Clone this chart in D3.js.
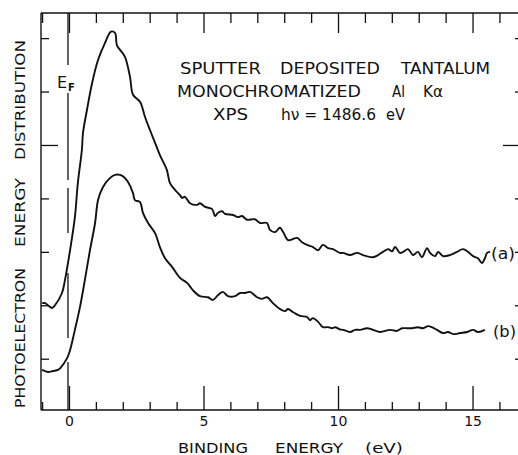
<!DOCTYPE html>
<html>
<head>
<meta charset="utf-8">
<script src="https://cdn.jsdelivr.net/npm/d3@7"></script>
<style>
  html, body { margin: 0; padding: 0; background: #fff; }
  svg { display: block; }
  text { font-family: "DejaVu Sans", sans-serif; fill: #111; }
</style>
</head>
<body>
<svg id="chart" width="518" height="455"></svg>
<script>
// ---------- DATA ----------
const energyA = [-1.00,-0.89,-0.78,-0.63,-0.52,-0.26,-0.15,0.04,0.22,0.33,0.48,0.52,0.67,0.86,1.08,1.34,1.56,1.71,1.78,1.90,2.08,2.27,2.38,2.64,2.83,3.01,3.20,3.38,3.64,3.75,3.94,4.13,4.20,4.31,4.50,4.76,4.87,5.06,5.32,5.43,5.54,5.69,5.80,6.10,6.28,6.43,6.62,6.91,7.10,7.36,7.47,7.66,7.84,7.96,8.14,8.33,8.48,8.66,8.85,9.07,9.26,9.44,9.63,9.81,10.07,10.19,10.45,10.71,10.93,11.30,11.49,11.67,11.86,12.01,12.12,12.30,12.42,12.60,12.79,12.97,13.12,13.31,13.42,13.61,13.72,13.90,14.16,14.42,14.65,14.83,15.02,15.20,15.35,15.46,15.54,15.65];
const intensityA = [2.04,2.04,2.00,1.95,2.00,2.23,2.47,3.03,3.65,4.29,4.91,5.22,5.66,6.16,6.59,6.91,7.12,7.10,6.87,6.78,6.65,6.27,5.94,5.81,5.52,5.28,5.04,4.81,4.53,4.29,4.16,4.06,4.01,4.03,3.91,3.88,3.91,3.84,3.80,3.67,3.73,3.76,3.71,3.69,3.65,3.67,3.60,3.61,3.54,3.54,3.41,3.37,3.45,3.37,3.22,3.24,3.26,3.18,3.13,3.09,3.03,3.13,3.07,3.05,2.98,2.98,2.94,2.98,2.94,2.90,2.94,3.00,3.05,3.01,3.09,2.98,3.00,3.05,2.94,3.00,2.90,3.07,2.98,2.92,3.00,2.92,2.94,3.00,3.05,3.00,2.92,2.88,2.79,2.88,2.98,3.00];

const energyB = [-1.00,-0.78,-0.59,-0.41,-0.33,-0.07,0.04,0.22,0.41,0.59,0.78,0.97,1.08,1.26,1.52,1.71,1.90,2.04,2.19,2.38,2.45,2.64,2.75,2.94,3.20,3.38,3.57,3.83,4.13,4.39,4.61,4.87,5.17,5.35,5.54,5.72,5.91,6.17,6.36,6.54,6.73,6.99,7.17,7.36,7.58,7.84,8.03,8.14,8.33,8.59,8.85,8.96,9.07,9.26,9.44,9.63,9.78,9.89,10.07,10.19,10.45,10.63,10.82,11.08,11.30,11.56,11.93,12.19,12.38,12.57,12.75,12.97,13.16,13.35,13.49,13.68,13.90,14.09,14.28,14.54,14.80,15.02,15.20,15.46];
const intensityB = [0.79,0.75,0.77,0.79,0.82,1.01,1.16,1.54,1.97,2.47,3.03,3.54,3.97,4.21,4.38,4.44,4.44,4.40,4.31,4.10,3.97,3.93,3.73,3.54,3.35,3.09,2.88,2.72,2.51,2.42,2.28,2.17,2.15,2.10,2.19,2.25,2.17,2.17,2.23,2.23,2.25,2.15,2.12,2.15,2.04,1.93,1.89,1.93,1.87,1.80,1.78,1.72,1.76,1.69,1.59,1.59,1.57,1.59,1.55,1.54,1.50,1.54,1.54,1.57,1.54,1.50,1.54,1.52,1.57,1.57,1.57,1.59,1.57,1.61,1.59,1.54,1.48,1.50,1.46,1.48,1.50,1.54,1.50,1.54];

const xMinorTicks = d3.range(-1, 17);
const xMajorTicks = [0, 5, 10, 15];
const xTickLabels = ["0", "5", "10", "15"];
const yMinorTicks = [1, 2, 3, 4, 5, 6, 7];
const yMajorTicks = [5];
const fermiEnergy = 0;
const titleLines = [
  ["SPUTTER", "DEPOSITED", "TANTALUM"],
  ["MONOCHROMATIZED", "Al", "Kα"],
  ["XPS", "hν = 1486.6", "eV"]
];
const xTitleWords = ["BINDING", "ENERGY", "(eV)"];
const yTitleWords = ["PHOTOELECTRON", "ENERGY", "DISTRIBUTION"];
const seriesLabels = ["(a)", "(b)"];

// ---------- LAYOUT ----------
const svg = d3.select("#chart");
const L = 41, R = 518, T = 13, B = 410;
const x = d3.scaleLinear().domain([-1.04, 16.69]).range([L, R]);
const y = d3.scaleLinear().domain([0.04, 7.47]).range([B, T]);
const ink = "#111";

// frame
const frame = svg.append("g").attr("stroke", ink).attr("stroke-width", 1.4).attr("fill", "none");
frame.append("line").attr("x1", L).attr("x2", R + 5).attr("y1", B).attr("y2", B);
frame.append("line").attr("x1", L).attr("x2", R + 5).attr("y1", T).attr("y2", T);
frame.append("line").attr("x1", L).attr("x2", L).attr("y1", T).attr("y2", B);

function styleAxis(g) {
  g.select(".domain").remove();
  g.selectAll(".tick line").attr("stroke", ink).attr("stroke-width", 1.3);
}

// bottom axis ticks (inward)
svg.append("g").attr("transform", `translate(0,${B})`)
  .call(d3.axisBottom(x).tickValues(xMinorTicks.filter(v => !xMajorTicks.includes(v))).tickSize(-8).tickFormat(""))
  .call(styleAxis);
svg.append("g").attr("transform", `translate(0,${B})`)
  .call(d3.axisBottom(x).tickValues(xMajorTicks).tickSize(-24).tickFormat(""))
  .call(styleAxis);
// bottom tick labels
svg.append("g").attr("transform", `translate(0,${B})`)
  .call(d3.axisBottom(x).tickValues(xMajorTicks).tickSize(0).tickPadding(6).tickFormat((d, i) => xTickLabels[i]))
  .call(g => { g.select(".domain").remove(); g.selectAll("text").attr("font-size", 14).attr("font-family", "DejaVu Sans").attr("fill", ink); });

// top axis ticks (inward)
svg.append("g").attr("transform", `translate(0,${T})`)
  .call(d3.axisTop(x).tickValues(xMinorTicks.filter(v => !xMajorTicks.includes(v))).tickSize(-10).tickFormat(""))
  .call(styleAxis);
svg.append("g").attr("transform", `translate(0,${T})`)
  .call(d3.axisTop(x).tickValues(xMajorTicks).tickSize(-20).tickFormat(""))
  .call(styleAxis);

// left axis ticks (inward)
svg.append("g").attr("transform", `translate(${L},0)`)
  .call(d3.axisLeft(y).tickValues(yMinorTicks.filter(v => !yMajorTicks.includes(v))).tickSize(-8).tickFormat(""))
  .call(styleAxis);
svg.append("g").attr("transform", `translate(${L},0)`)
  .call(d3.axisLeft(y).tickValues(yMajorTicks).tickSize(-17).tickFormat(""))
  .call(styleAxis);

// right axis ticks (inward, axis just outside the picture)
const RA = 524;
svg.append("g").attr("transform", `translate(${RA},0)`)
  .call(d3.axisRight(y).tickValues(yMinorTicks.filter(v => !yMajorTicks.includes(v))).tickSize(-9).tickFormat(""))
  .call(styleAxis);
svg.append("g").attr("transform", `translate(${RA},0)`)
  .call(d3.axisRight(y).tickValues(yMajorTicks).tickSize(-21).tickFormat(""))
  .call(styleAxis);

// Fermi level dashed marker
const fermiSegments = [[T, 65], [93, 180], [188, 233], [273, 338], [362, B]];
svg.append("g").attr("stroke", ink).attr("stroke-width", 1.3)
  .selectAll("line").data(fermiSegments).join("line")
  .attr("x1", x(fermiEnergy) - 1).attr("x2", x(fermiEnergy) - 1)
  .attr("y1", d => d[0]).attr("y2", d => d[1]);
svg.append("text").attr("x", 57).attr("y", 88).attr("font-size", 16).text("E");
svg.append("text").attr("x", 68).attr("y", 91).attr("font-size", 10).attr("font-weight", "bold").text("F");

// curves
const line = d3.line().x(d => x(d[0])).y(d => y(d[1])).curve(d3.curveCatmullRom.alpha(0.5));
const seriesA = energyA.map((e, i) => [e, intensityA[i]]);
const seriesB = energyB.map((e, i) => [e, intensityB[i]]);
svg.selectAll("path.curve").data([seriesA, seriesB]).join("path")
  .attr("class", "curve")
  .attr("d", line).attr("fill", "none").attr("stroke", ink)
  .attr("stroke-width", 1.9).attr("stroke-linejoin", "round");

// helper for fitted text
function word(g, str, x0, x1, base, size) {
  return g.append("text").attr("x", x0).attr("y", base).attr("font-size", size)
    .attr("textLength", x1 - x0).attr("lengthAdjust", "spacingAndGlyphs").text(str);
}

// title block
const tg = svg.append("g");
const titlePos = [
  [[180, 261], [280, 380], [401, 490]],
  [[177, 361], [392, 405], [423, 443]],
  [[213, 248], [281, 376], [386, 405]]
];
const titleBase = [74, 97, 120];
titleLines.forEach((ws, li) => ws.forEach((w, wi) =>
  word(tg, w, titlePos[li][wi][0], titlePos[li][wi][1], titleBase[li], 15)));

// x title
const xPos = [[178, 248], [275, 343], [365, 403]];
xTitleWords.forEach((w, i) => word(svg, w, xPos[i][0], xPos[i][1], 453, 14));

// y title (rotated)
const yg = svg.append("g").attr("transform", "rotate(-90)");
const yPos = [[268, 408], [178, 247], [40, 160]];
yTitleWords.forEach((w, i) =>
  yg.append("text").attr("x", -yPos[i][1]).attr("y", 25).attr("font-size", 14)
    .attr("textLength", yPos[i][1] - yPos[i][0]).attr("lengthAdjust", "spacingAndGlyphs").text(w));

// series labels
word(svg, seriesLabels[0], 491, 515, 259, 15);
word(svg, seriesLabels[1], 493, 516, 337, 15);
</script>
</body>
</html>
